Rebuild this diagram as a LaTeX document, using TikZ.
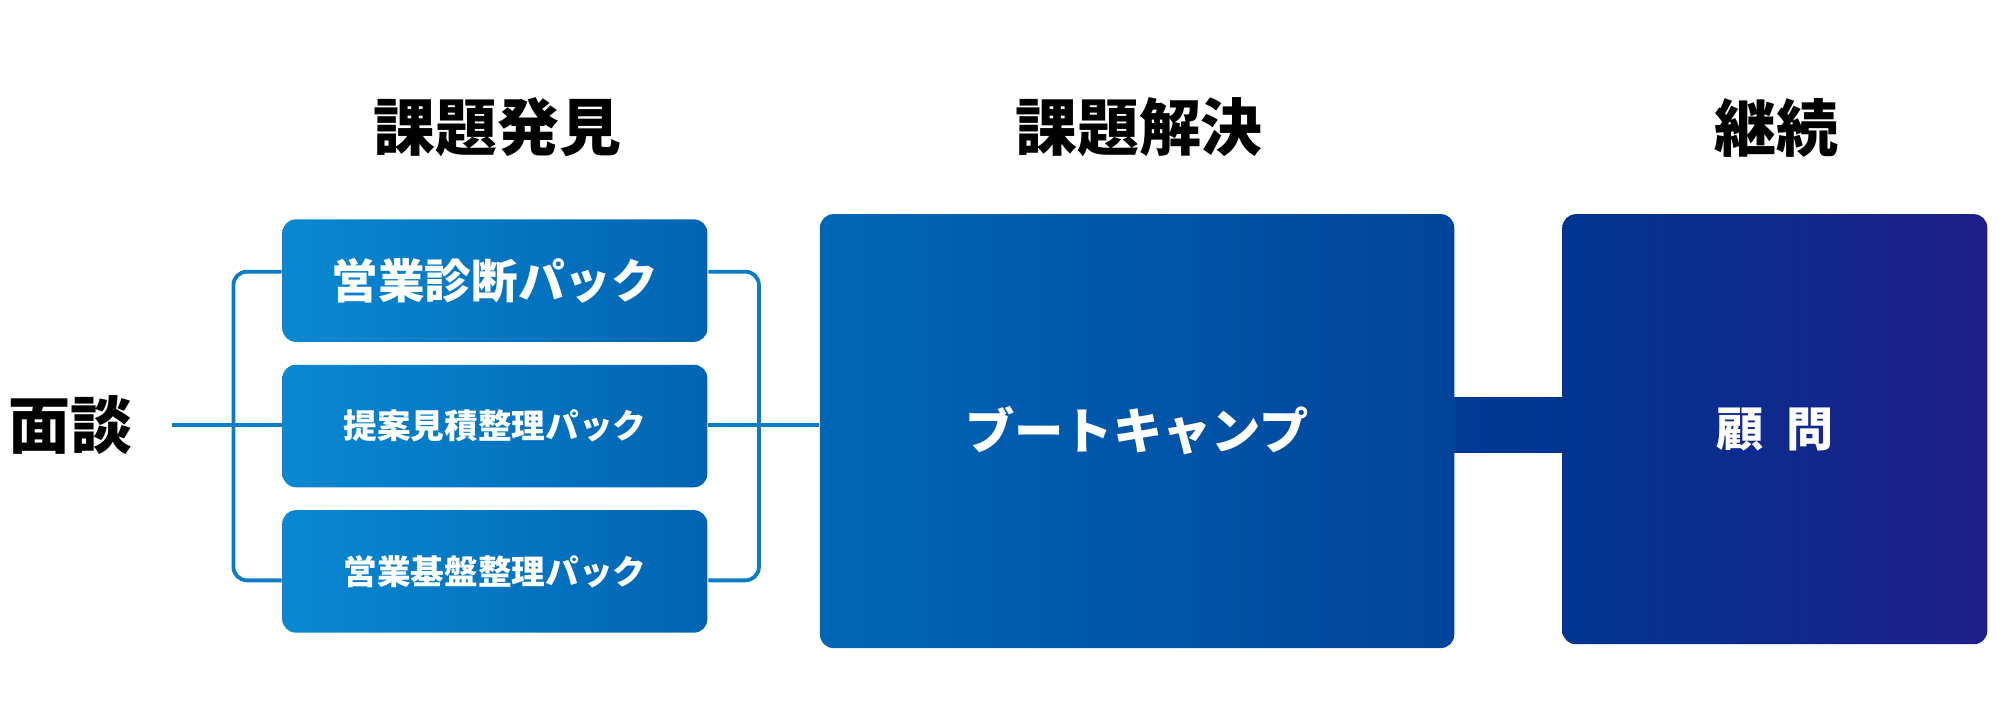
\documentclass[tikz,border=0pt]{standalone}
\usepackage{fontspec}
\setmainfont{Noto Sans CJK JP}
\usetikzlibrary{positioning}
\definecolor{linecol}{HTML}{0A7CC8}
\definecolor{packL}{HTML}{0A88D2}
\definecolor{packR}{HTML}{0064B2}
\definecolor{campL}{HTML}{0067B6}
\definecolor{campR}{HTML}{00449B}
\definecolor{advL}{HTML}{003592}
\definecolor{advR}{HTML}{1E1E88}
\tikzset{
  pack/.style={rounded corners=3pt, left color=packL, right color=packR, draw=none,
    minimum width=3.33cm, minimum height=0.96cm, text=white},
  head/.style={font=\fontsize{13.8}{16}\selectfont\bfseries},
  branch/.style={draw=linecol, line width=0.85pt, rounded corners=3pt}
}
\begin{document}
\begin{tikzpicture}[x=0.01cm, y=-0.01cm]
        \useasboundingbox (0,0) rectangle (1568,549);
        % Headers
        \node[head] (h1) at (390,100) {課題発見};
        \node[head] (h2) at (893,100) {課題解決};
        \node[head] (h3) at (1393,100) {継続};
        \node[head] (start) at (55,333) {面談};

        % Packs
        \node[pack, font=\fontsize{10.4}{12}\selectfont\bfseries] (p1) at (388,220) {営業診断パック};
        \node[pack, font=\fontsize{7.5}{9}\selectfont\bfseries] (p2) at (388,334) {提案見積整理パック};
        \node[pack, font=\fontsize{7.5}{9}\selectfont\bfseries] (p3) at (388,448) {営業基盤整理パック};

        % Boot camp and advisor
        \fill[left color=advL!60!campR, right color=advL] (1138,312) rectangle (1227,355);
        \node[rounded corners=3pt, left color=campL, right color=campR, minimum width=4.97cm,
          minimum height=3.4cm, text=white, font=\fontsize{11}{13}\selectfont\bfseries] (camp) at (891.5,338) {ブートキャンプ};
        \node[rounded corners=3pt, left color=advL, right color=advR, minimum width=3.33cm,
          minimum height=3.37cm, text=white, font=\fontsize{10.5}{12}\selectfont\bfseries] (adv) at (1391.5,336.5) {顧\hspace{0.5em}問};

        % Branches
        \coordinate (in) at (135,333);
        \draw[branch] (in) -- (p2.west |- in);
        \draw[branch] (p1.west |- 0,213) -- (183,213) -- (183,333);
        \draw[branch] (p3.west |- 0,455) -- (183,455) -- (183,333);
        \draw[branch] (p2.east |- in) -- (camp.west |- in);
        \draw[branch] (p1.east |- 0,213) -- (595,213) -- (595,333);
        \draw[branch] (p3.east |- 0,455) -- (595,455) -- (595,333);
    \end{tikzpicture}
\end{document}
